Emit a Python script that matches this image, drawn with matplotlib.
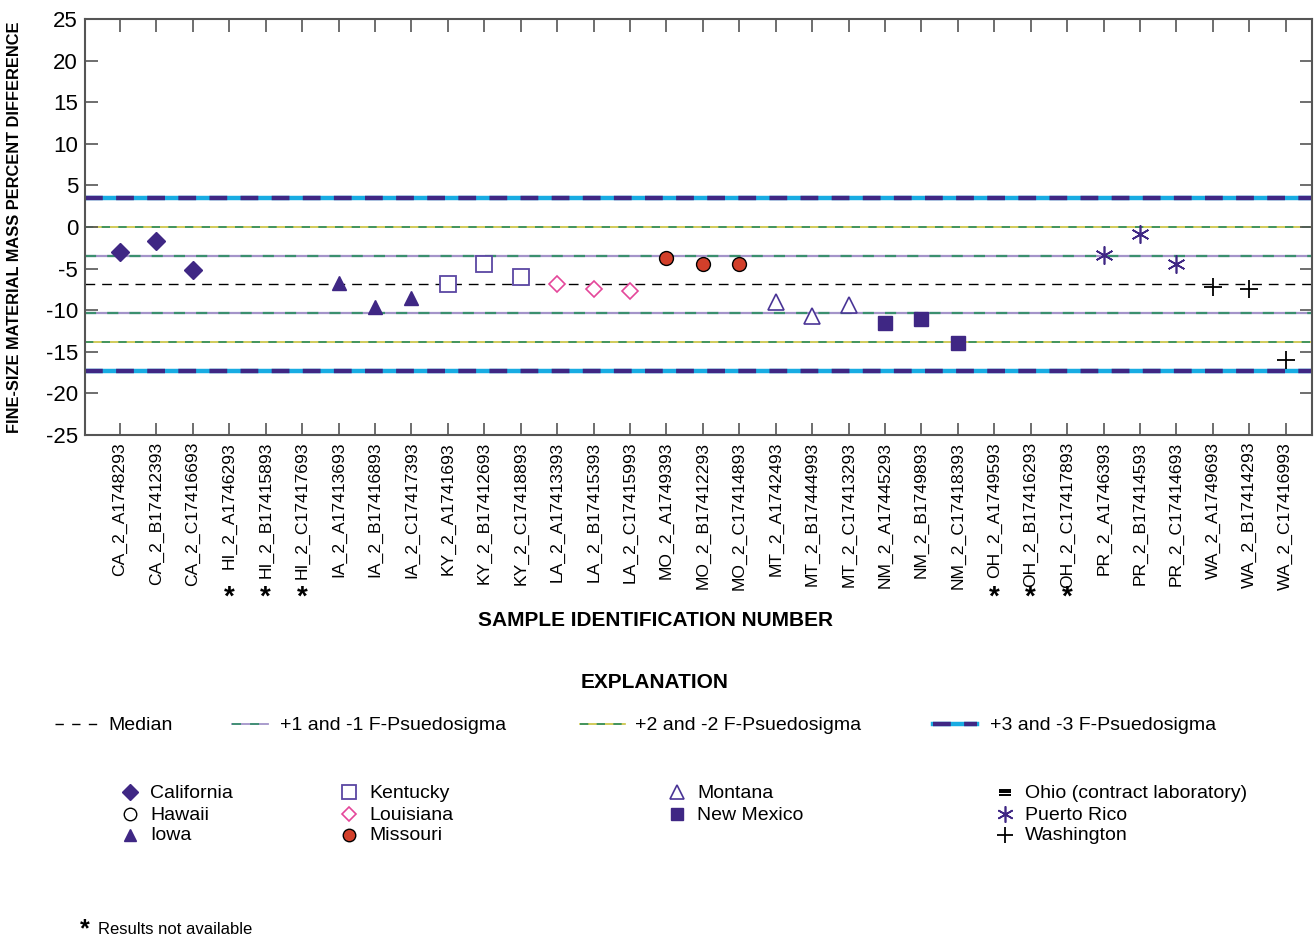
import numpy as np
import matplotlib
matplotlib.use("Agg")
import matplotlib.pyplot as plt

plt.rcParams['font.family'] = ['Liberation Sans', 'DejaVu Sans']
plt.rcParams['axes.unicode_minus'] = False

# sample ids, grouped by state (3 per state)
samples = ['CA_2_A1748293', 'CA_2_B17412393', 'CA_2_C17416693',
           'HI_2_A1746293', 'HI_2_B17415893', 'HI_2_C17417693',
           'IA_2_A17413693', 'IA_2_B17416893', 'IA_2_C17417393',
           'KY_2_A1741693', 'KY_2_B17412693', 'KY_2_C17418893',
           'LA_2_A17413393', 'LA_2_B17415393', 'LA_2_C17415993',
           'MO_2_A1749393', 'MO_2_B17412293', 'MO_2_C17414893',
           'MT_2_A1742493', 'MT_2_B17444993', 'MT_2_C17413293',
           'NM_2_A17445293', 'NM_2_B1749893', 'NM_2_C17418393',
           'OH_2_A1749593', 'OH_2_B17416293', 'OH_2_C17417893',
           'PR_2_A1746393', 'PR_2_B17414593', 'PR_2_C17414693',
           'WA_2_A1749693', 'WA_2_B17414293', 'WA_2_C17416993']

# percent difference (nan = results not available)
pct_diff = [-3.0, -1.7, -5.2,
            np.nan, np.nan, np.nan,
            -6.7, -9.6, -8.5,
            -6.9, -4.5, -6.0,
            -6.8, -7.4, -7.7,
            -3.7, -4.4, -4.5,
            -9.0, -10.7, -9.4,
            -11.5, -11.0, -14.0,
            np.nan, np.nan, np.nan,
            -3.4, -0.8, -4.4,
            -7.2, -7.4, -16.0]

states = ['California', 'Hawaii', 'Iowa', 'Kentucky', 'Louisiana', 'Missouri',
          'Montana', 'New Mexico', 'Ohio (contract laboratory)', 'Puerto Rico', 'Washington']

median = -6.9
sigma = 3.45

purple = '#3f2784'
styles = {
    'California': dict(marker='D', color=purple, mfc=purple, ms=9),
    'Hawaii': dict(marker='o', color='black', mfc='white', ms=10),
    'Iowa': dict(marker='^', color=purple, mfc=purple, ms=10),
    'Kentucky': dict(marker='s', color='#5b47a3', mfc='white', ms=11, mew=1.3),
    'Louisiana': dict(marker='D', color='#e4479a', mfc='white', ms=8, mew=1.2),
    'Missouri': dict(marker='o', color='black', mfc='#d23f2a', ms=10, mew=1),
    'Montana': dict(marker='^', color='#4a3596', mfc='white', ms=11, mew=1.2),
    'New Mexico': dict(marker='s', color=purple, mfc=purple, ms=10),
    'Ohio (contract laboratory)': None,
    'Puerto Rico': dict(marker=(6, 2, 0), color=purple, mfc=purple, ms=13, mew=1.2),
    'Washington': dict(marker='+', color='black', mfc='black', ms=13, mew=1.3),
}

fig = plt.figure(figsize=(13.16, 9.4), dpi=100)
ax = fig.add_axes([85 / 1316, 1 - 435 / 940, (1312 - 85) / 1316, (435 - 19) / 940])

x = np.arange(len(samples))


def sigma_line(y, c1, c2, lw, dash):
    ax.axhline(y, color=c1, lw=lw, zorder=1)
    ax.axhline(y, color=c2, lw=lw, dashes=dash, zorder=1)


sigma_line(median + sigma, '#a394c9', '#3b8f6f', 1.6, (5, 5))
sigma_line(median - sigma, '#a394c9', '#3b8f6f', 1.6, (5, 5))
sigma_line(median + 2 * sigma, '#c9c23e', '#2a8b5e', 1.2, (5, 5))
sigma_line(median - 2 * sigma, '#c9c23e', '#2a8b5e', 1.2, (5, 5))
sigma_line(median + 3 * sigma, '#18ace3', purple, 3.2, (4, 3))
sigma_line(median - 3 * sigma, '#18ace3', purple, 3.2, (4, 3))
ax.axhline(median, color='black', lw=1, dashes=(7, 5), zorder=1)

for i, st in enumerate(states):
    if styles[st] is None:
        continue
    idx = x[3 * i:3 * i + 3]
    vals = pct_diff[3 * i:3 * i + 3]
    ax.plot(idx, vals, ls='none', zorder=3, **styles[st])

ax.set_xlim(-0.96, 32.72)
ax.set_ylim(-25, 25)
ax.set_yticks(np.arange(-25, 26, 5))
ax.set_xticks(x)
ax.set_xticklabels(samples, rotation=90, fontsize=12.6, va='top')
ax.tick_params(axis='y', labelsize=16)
ax.tick_params(direction='in', length=9, width=1.2, color='#555555',
               top=True, right=True, pad=5)
for sp in ax.spines.values():
    sp.set_color('#555555')
    sp.set_linewidth(1.5)

ax.set_ylabel('FINE-SIZE MATERIAL MASS PERCENT DIFFERENCE', fontsize=11.8,
              fontweight='bold')
ax.yaxis.set_label_coords(-0.051, 0.5)

# asterisks for results not available
for i, v in enumerate(pct_diff):
    if np.isnan(v):
        ax.text(i, -0.39, '*', transform=ax.get_xaxis_transform(), ha='center',
                va='center', fontsize=20, fontweight='bold')

# explanation area in pixel coordinates
lg = fig.add_axes([0, 0, 1, 1], zorder=-1)
lg.set_xlim(0, 1316)
lg.set_ylim(940, 0)
lg.axis('off')

lg.text(655, 621, 'SAMPLE IDENTIFICATION NUMBER', ha='center', va='center',
        fontsize=15, fontweight='bold')
lg.text(655, 682, 'EXPLANATION', ha='center', va='center', fontsize=15,
        fontweight='bold')

ly = 724
lg.plot([55, 100], [ly, ly], color='black', lw=1, dashes=(6, 6))
lg.text(108, ly + 1, 'Median', va='center', fontsize=14)
lg.plot([232, 268], [ly, ly], color='#a394c9', lw=1.3)
lg.plot([232, 268], [ly, ly], color='#3b8f6f', lw=1.3, dashes=(5, 5))
lg.text(280, ly + 1, '+1 and -1 F-Psuedosigma', va='center', fontsize=14)
lg.plot([580, 625], [ly, ly], color='#c9c23e', lw=1.2)
lg.plot([580, 625], [ly, ly], color='#2a8b5e', lw=1.2, dashes=(5, 5))
lg.text(635, ly + 1, '+2 and -2 F-Psuedosigma', va='center', fontsize=14)
lg.plot([933, 977], [ly, ly], color='#18ace3', lw=3.2)
lg.plot([933, 977], [ly, ly], color=purple, lw=3.2, dashes=(4, 3))
lg.text(990, ly + 1, '+3 and -3 F-Psuedosigma', va='center', fontsize=14)

cols = [130, 349, 677, 1005]
rows = [792, 814, 835]
slots = [(0, 0), (0, 1), (0, 2), (1, 0), (1, 1), (1, 2), (2, 0), (2, 1),
         (3, 0), (3, 1), (3, 2)]
for st, (c, r) in zip(states, slots):
    if styles[st] is None:
        # ohio: triple bar symbol
        for dy in (-2.5, 0, 2.5):
            lg.plot([cols[c] - 6, cols[c] + 6], [rows[r] + dy, rows[r] + dy],
                    color='black', lw=1.4, solid_capstyle='butt')
    else:
        s = dict(styles[st])
        s['ms'] = s['ms'] * 0.9
        lg.plot([cols[c]], [rows[r]], ls='none', **s)
    lg.text(cols[c] + 20, rows[r] + 1, st, va='center', fontsize=14)

lg.text(80, 929, '*', ha='left', va='center', fontsize=18, fontweight='bold')
lg.text(98, 929, 'Results not available', ha='left', va='center', fontsize=12)

fig.savefig('out.png', dpi=100)
